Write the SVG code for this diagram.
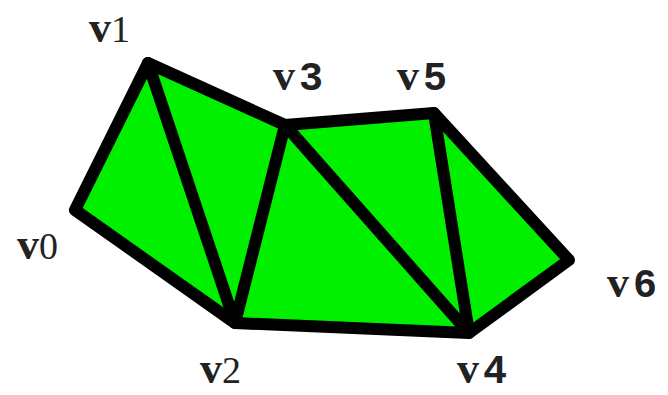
<svg xmlns="http://www.w3.org/2000/svg" width="668" height="395" viewBox="0 0 668 395">
<style>
.tri{fill:#00f000;stroke:none}
.e{stroke:#000;stroke-width:12;stroke-linecap:round;stroke-linejoin:round;fill:none}
.lb{fill:#222}
.sv{font-family:"Liberation Serif",serif;font-weight:bold;font-size:44px}
.sd{font-family:"Liberation Serif",serif;font-weight:normal;font-size:38px}
.md{font-family:"Liberation Mono",monospace;font-weight:bold;font-size:40px}
</style>
<rect width="668" height="395" fill="#fff"/>
<g id="strip">
<polygon class="tri" points="75,210 148,63 285,125 434,113 569,260 469,333 235,323"/>
</g>
<g id="connectors">
<path class="e" d="M75,210 L148,63 L285,125 L434,113 L569,260 L469,333 L235,323 Z"/>
<path class="e" d="M148,63 L235,323 L285,125 L469,333 L434,113"/>
</g>
<g id="v0"><text x="17" y="259" class="lb"><tspan class="sv">v</tspan><tspan class="sd">0</tspan></text></g>
<g id="v1"><text x="89" y="42" class="lb"><tspan class="sv">v</tspan><tspan class="sd">1</tspan></text></g>
<g id="v2"><text x="200" y="383" class="lb"><tspan class="sv">v</tspan><tspan class="sd">2</tspan></text></g>
<g id="v3"><text x="273" y="90" class="lb"><tspan class="sv">v</tspan><tspan class="md" dx="4">3</tspan></text></g>
<g id="v5"><text x="397" y="90" class="lb"><tspan class="sv">v</tspan><tspan class="md" dx="4">5</tspan></text></g>
<g id="v6"><text x="607" y="297" class="lb"><tspan class="sv">v</tspan><tspan class="md" dx="4">6</tspan></text></g>
<g id="v4"><text x="457" y="383" class="lb"><tspan class="sv">v</tspan><tspan class="md" dx="4">4</tspan></text></g>
</svg>
